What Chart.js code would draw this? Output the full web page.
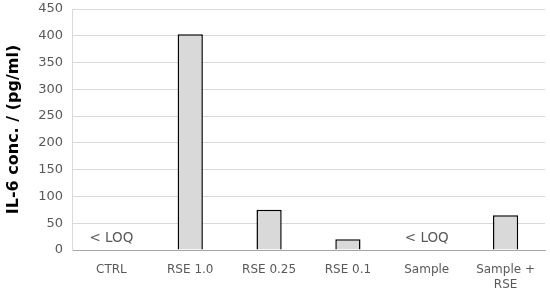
<!DOCTYPE html>
<html>
<head>
<meta charset="utf-8">
<script src="https://cdn.jsdelivr.net/npm/chart.js@4/dist/chart.umd.min.js"></script>
<style>
  html, body { margin: 0; padding: 0; background: #fff; }
  #wrap { width: 550px; height: 296px; }
</style>
</head>
<body>
<div id="wrap"><canvas id="il6Chart"></canvas></div>
<script>
// IL-6 concentration per treatment
const categories = ['CTRL', 'RSE 1.0', 'RSE 0.25', 'RSE 0.1', 'Sample', ['Sample +', 'RSE']];
const il6Values = [null, 403, 75, 20, null, 65];
const barNotes = ['< LOQ', '', '', '', '< LOQ', ''];
const yTicks = [0, 50, 100, 150, 200, 250, 300, 350, 400, 450];

const FONT = "'DejaVu Sans', sans-serif";
const TEXT = '#595959';

// writes the "< LOQ" notes above the empty categories
const notePlugin = {
  id: 'notes',
  afterDatasetsDraw(chart) {
    const ctx = chart.ctx;
    const x = chart.scales.x, y = chart.scales.y;
    ctx.save();
    ctx.font = '13.5px ' + FONT;
    ctx.fillStyle = TEXT;
    ctx.textAlign = 'center';
    ctx.textBaseline = 'middle';
    barNotes.forEach((t, i) => {
      if (t) ctx.fillText(t, x.getPixelForValue(i), y.getPixelForValue(22));
    });
    ctx.restore();
  }
};

new Chart(document.getElementById('il6Chart'), {
  type: 'bar',
  data: {
    labels: categories,
    datasets: [{
      data: il6Values,
      backgroundColor: '#d9d9d9',
      borderColor: '#000',
      borderWidth: 1.5,
      borderSkipped: 'bottom',
      categoryPercentage: 1,
      barPercentage: 0.32
    }]
  },
  options: {
    responsive: true,
    maintainAspectRatio: false,
    animation: false,
    layout: { padding: { top: 9, right: 5, left: 4, bottom: 0 } },
    plugins: { legend: { display: false }, tooltip: { enabled: false } },
    scales: {
      x: {
        grid: { display: false, drawTicks: false },
        border: { color: '#a6a6a6', width: 1 },
        ticks: { color: TEXT, font: { family: FONT, size: 12 }, padding: 13, maxRotation: 0, autoSkip: false },
        afterFit(s) { s.height = 46; }
      },
      y: {
        min: 0, max: 450,
        afterBuildTicks(s) { s.ticks = yTicks.map(v => ({ value: v })); },
        grid: { color: '#d9d9d9', lineWidth: 1, drawTicks: false },
        border: { color: '#d9d9d9' },
        ticks: { color: TEXT, font: { family: FONT, size: 13 }, padding: 9 },
        title: { display: true, text: 'IL-6 conc. / (pg/ml)', color: '#000', font: { family: FONT, size: 16, weight: 'bold' }, padding: { top: 0, bottom: 2 } },
        afterFit(s) { s.width = 68; s.paddingTop = 0; }
      }
    }
  },
  plugins: [notePlugin]
});
</script>
</body>
</html>
